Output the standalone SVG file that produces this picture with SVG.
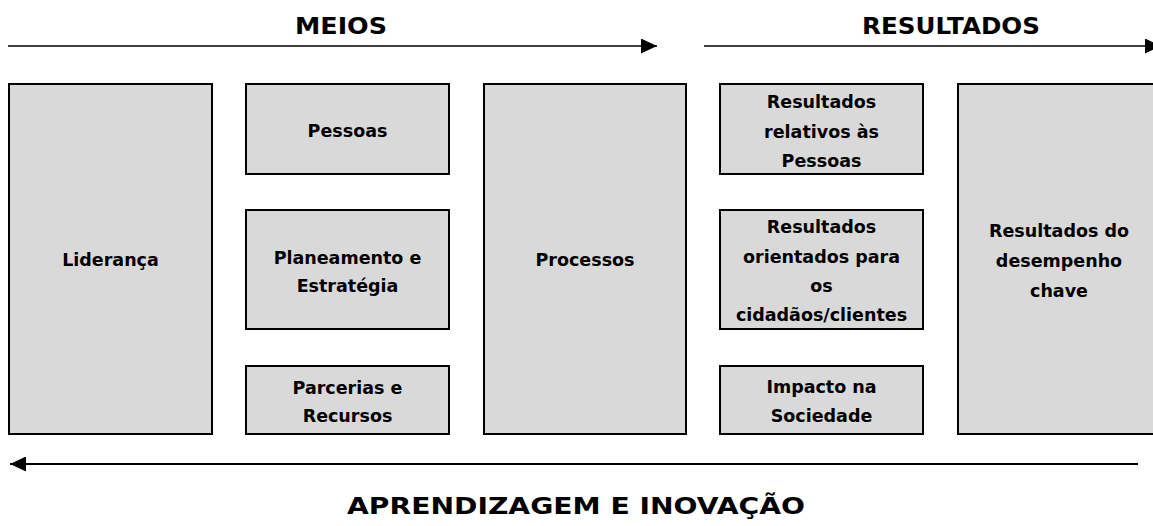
<svg xmlns="http://www.w3.org/2000/svg" width="1153" height="526" viewBox="0 0 1153 526">
  <style>
    .box { fill: #d9d9d9; stroke: #000; stroke-width: 2; }
    .lbl { font-family: "DejaVu Sans", "Liberation Sans", sans-serif; font-weight: bold; font-size: 17.5px; fill: #000; text-anchor: middle; }
    .ttl { font-family: "DejaVu Sans", "Liberation Sans", sans-serif; font-weight: bold; font-size: 23px; fill: #000; text-anchor: middle; }
    .arr { stroke: #000; fill: none; }
  </style>
  <defs>
    <marker id="head" markerUnits="userSpaceOnUse" markerWidth="16" markerHeight="15" refX="16" refY="7.5" orient="auto">
      <path d="M0,0 L16,7.5 L0,15 z" fill="#000"/>
    </marker>
  </defs>

  <rect width="1153" height="526" fill="#fff"/>

  <g id="titles">
    <text class="ttl" x="341" y="34" textLength="92" lengthAdjust="spacingAndGlyphs">MEIOS</text>
    <text class="ttl" x="951" y="34" textLength="178" lengthAdjust="spacingAndGlyphs">RESULTADOS</text>
    <text class="ttl" x="576" y="514" textLength="458" lengthAdjust="spacingAndGlyphs">APRENDIZAGEM E INOVAÇÃO</text>
  </g>

  <g id="connectors">
    <line class="arr" x1="8" y1="46" x2="657" y2="46" stroke-width="1.6" marker-end="url(#head)"/>
    <line class="arr" x1="704" y1="46" x2="1161" y2="46" stroke-width="1.6" marker-end="url(#head)"/>
    <line class="arr" x1="1138" y1="464" x2="10" y2="464" stroke-width="2" marker-end="url(#head)"/>
  </g>

  <g id="lideranca">
    <rect class="box" x="9" y="84" width="203" height="350"/>
    <text class="lbl" x="110.5" y="266">Liderança</text>
  </g>

  <g id="pessoas">
    <rect class="box" x="246" y="84" width="203" height="90"/>
    <text class="lbl" x="347.5" y="137">Pessoas</text>
  </g>

  <g id="planeamento">
    <rect class="box" x="246" y="210" width="203" height="119"/>
    <text class="lbl" x="347.5" y="264">Planeamento e</text>
    <text class="lbl" x="347.5" y="292">Estratégia</text>
  </g>

  <g id="parcerias">
    <rect class="box" x="246" y="366" width="203" height="68"/>
    <text class="lbl" x="347.5" y="394">Parcerias e</text>
    <text class="lbl" x="347.5" y="422">Recursos</text>
  </g>

  <g id="processos">
    <rect class="box" x="484" y="84" width="202" height="350"/>
    <text class="lbl" x="585" y="266">Processos</text>
  </g>

  <g id="resultados-pessoas">
    <rect class="box" x="720" y="84" width="203" height="90"/>
    <text class="lbl" x="821.5" y="108">Resultados</text>
    <text class="lbl" x="821.5" y="138">relativos às</text>
    <text class="lbl" x="821.5" y="167">Pessoas</text>
  </g>

  <g id="resultados-clientes">
    <rect class="box" x="720" y="210" width="203" height="119"/>
    <text class="lbl" x="821.5" y="233">Resultados</text>
    <text class="lbl" x="821.5" y="263">orientados para</text>
    <text class="lbl" x="821.5" y="292">os</text>
    <text class="lbl" x="821.5" y="321">cidadãos/clientes</text>
  </g>

  <g id="impacto">
    <rect class="box" x="720" y="366" width="203" height="68"/>
    <text class="lbl" x="821.5" y="393">Impacto na</text>
    <text class="lbl" x="821.5" y="422">Sociedade</text>
  </g>

  <g id="desempenho">
    <rect class="box" x="958" y="84" width="204" height="350"/>
    <text class="lbl" x="1059" y="237">Resultados do</text>
    <text class="lbl" x="1059" y="267">desempenho</text>
    <text class="lbl" x="1059" y="297">chave</text>
  </g>
</svg>
